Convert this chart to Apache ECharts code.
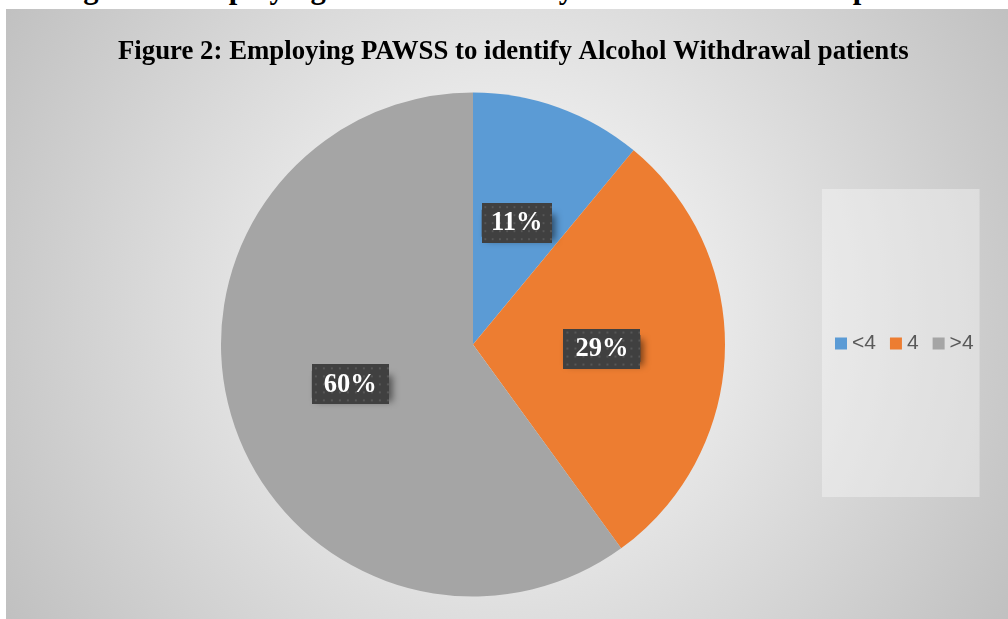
<!DOCTYPE html>
<html>
<head>
<meta charset="utf-8">
<script src="https://cdn.jsdelivr.net/npm/echarts@6/dist/echarts.min.js"></script>
<style>
  html, body { margin: 0; padding: 0; background: #ffffff; overflow: hidden; }
  #page { position: relative; width: 1008px; height: 619px; overflow: hidden; }
  #heading { position: absolute; left: 56px; top: -27px; font-family: "Liberation Serif", "Times New Roman", serif;
             font-weight: bold; font-size: 30.6px; line-height: 30.4px; white-space: nowrap; color: #000; }
  #chart { position: absolute; left: 6px; top: 9px; width: 1002px; height: 610px; }
</style>
</head>
<body>
<div id="page">
  <div id="heading">Figure 2: Employing PAWSS to identify Alcohol Withdrawal patients</div>
  <div id="chart"></div>
</div>
<script>
// ---- data ----
const titleText = 'Figure 2: Employing PAWSS to identify Alcohol Withdrawal patients';
const categories = ['<4', '4', '>4'];
const values = [11, 29, 60];
const colors = ['#5B9BD5', '#ED7D31', '#A5A5A5'];

// dotted dark pattern for the data-label boxes
function makePattern(w, h) {
  const c = document.createElement('canvas');
  c.width = w; c.height = h;
  const g = c.getContext('2d');
  g.fillStyle = '#404040';
  g.fillRect(0, 0, w, h);
  g.fillStyle = '#575757';
  for (let y = 3; y < h; y += 8) {
    for (let x = 3; x < w; x += 8) {
      g.fillRect(x, y, 2, 2);
    }
  }
  return c;
}
const pattern = makePattern(77, 40);

const chart = echarts.init(document.getElementById('chart'), null, { renderer: 'canvas' });

const boxText = {
  fontFamily: '"Liberation Serif", "Times New Roman", serif',
  fontWeight: 'bold',
  fontSize: 26.5,
  lineHeight: 27,
  color: '#ffffff',
  align: 'center',
  backgroundColor: { image: pattern },
  padding: [7, 0, 6, 0]
};

const option = {
  backgroundColor: {
    type: 'radial', x: 501, y: 300, r: 600, global: true,
    colorStops: [
      { offset: 0, color: '#ffffff' },
      { offset: 1, color: '#bfbfbf' }
    ]
  },
  title: {
    text: titleText,
    left: 112,
    top: 30,
    padding: 0,
    textStyle: {
      fontFamily: '"Liberation Serif", "Times New Roman", serif',
      fontWeight: 'bold',
      fontSize: 26.8,
      color: '#000000'
    }
  },
  legend: {
    data: categories,
    orient: 'horizontal',
    left: 816,
    top: 180,
    padding: [144, 6, 143, 13],
    backgroundColor: 'rgba(255,255,255,0.35)',
    icon: 'rect',
    itemWidth: 12,
    itemHeight: 12,
    itemGap: 14,
    textStyle: {
      fontFamily: '"Liberation Sans", Arial, sans-serif',
      fontSize: 21,
      color: '#595959'
    },
    selectedMode: false
  },
  series: [{
    type: 'pie',
    center: [467, 335.5],
    radius: 252,
    startAngle: 90,
    clockwise: true,
    animation: false,
    silent: true,
    data: categories.map((name, i) => ({ name: name, value: values[i], itemStyle: { color: colors[i] } })),
    label: {
      show: true,
      position: 'inside',
      formatter: (p) => (p.dataIndex === 0 ? '{n|' : '{w|') + p.value + '%}',
      backgroundColor: '#404040',
      padding: 0,
      shadowColor: 'rgba(0,0,0,0.5)',
      shadowBlur: 7,
      shadowOffsetX: 4,
      shadowOffsetY: 4,
      rich: {
        n: Object.assign({}, boxText, { width: 70 }),
        w: Object.assign({}, boxText, { width: 77 })
      }
    },
    labelLine: { show: false }
  }]
};
chart.setOption(option);
</script>
</body>
</html>
